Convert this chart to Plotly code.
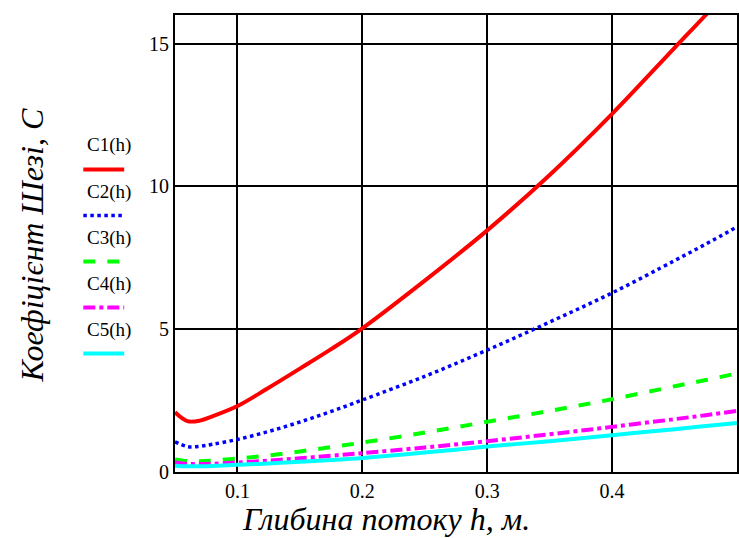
import plotly.graph_objects as go

h = [0.05, 0.06, 0.07, 0.08, 0.10, 0.125, 0.15, 0.175, 0.20, 0.25, 0.30, 0.35, 0.40, 0.45, 0.475, 0.50]
C1 = [2.09, 1.78, 1.80, 1.95, 2.31, 2.95, 3.62, 4.30, 5.03, 6.70, 8.46, 10.40, 12.54, 14.85, 16.0, 17.2]
C2 = [1.06, 0.89, 0.90, 0.97, 1.14, 1.42, 1.75, 2.12, 2.52, 3.35, 4.27, 5.25, 6.27, 7.40, 7.98, 8.58]
C3 = [0.44, 0.38, 0.38, 0.40, 0.47, 0.58, 0.72, 0.87, 1.03, 1.38, 1.76, 2.14, 2.55, 3.00, 3.22, 3.45]
C4 = [0.33, 0.28, 0.28, 0.29, 0.33, 0.40, 0.48, 0.57, 0.66, 0.86, 1.08, 1.32, 1.58, 1.85, 1.99, 2.14]
C5 = [0.22, 0.20, 0.20, 0.21, 0.25, 0.30, 0.36, 0.42, 0.49, 0.68, 0.89, 1.08, 1.29, 1.50, 1.61, 1.72]

names = ["C1(h)", "C2(h)", "C3(h)", "C4(h)", "C5(h)"]
series = [C1, C2, C3, C4, C5]
colors = ["#ff0000", "#0000ff", "#00ff00", "#ff00ff", "#00ffff"]
dashes = ["solid", "dot", "dash", "dashdot", "solid"]
widths = [4, 3.5, 4, 4, 4]

x_ticks = [0.1, 0.2, 0.3, 0.4]
y_ticks = [0, 5, 10, 15]

fig = go.Figure()
for name, ys, c, d, w in zip(names, series, colors, dashes, widths):
    fig.add_trace(go.Scatter(x=h, y=ys, mode="lines", name=name,
                             line=dict(color=c, dash=d, width=w, shape="spline"),
                             showlegend=False))

serif = "Times New Roman"

shapes = []
annotations = []
L, R, T, B = 175, 739, 15, 472
W, H = R - L, B - T
def px(xp):
    return (xp - L) / W
def py(yp):
    return (B - yp) / H

text_y = [145, 191.5, 237.5, 283.5, 329.5]
line_y = [169.5, 215.5, 261.5, 307.5, 353.5]
for i, name in enumerate(names):
    annotations.append(dict(text=name, x=px(108.5), y=py(text_y[i]), xref="paper", yref="paper",
                            showarrow=False, font=dict(family=serif, size=19, color="black"),
                            xanchor="center", yanchor="middle"))
    shapes.append(dict(type="line", xref="paper", yref="paper",
                       x0=px(83), x1=px(124), y0=py(line_y[i]), y1=py(line_y[i]),
                       line=dict(color=colors[i], dash=dashes[i], width=widths[i])))

annotations.append(dict(text="Глибина потоку h, м.", x=px(387), y=py(519), xref="paper", yref="paper",
                        showarrow=False, font=dict(family=serif, size=32, color="black", style="italic"),
                        xanchor="center", yanchor="middle"))
annotations.append(dict(text="Коефіцієнт Шезі, C", x=px(31), y=py(246), xref="paper", yref="paper",
                        showarrow=False, textangle=-90,
                        font=dict(family=serif, size=32, color="black", style="italic"),
                        xanchor="center", yanchor="middle"))

fig.update_layout(
    width=739, height=538,
    margin=dict(l=L, r=0, t=T, b=538 - B),
    paper_bgcolor="white", plot_bgcolor="white",
    shapes=shapes, annotations=annotations,
    font=dict(family=serif, size=19, color="black"),
)
fig.update_xaxes(range=[0.05, 0.5], tickvals=x_ticks, ticktext=[str(v) for v in x_ticks],
                 showgrid=True, gridcolor="black", gridwidth=1.5,
                 showline=True, linecolor="black", linewidth=2, mirror=True,
                 ticks="", zeroline=False, tickfont=dict(family=serif, size=20))
fig.update_yaxes(range=[0, 16], tickvals=y_ticks, ticktext=[str(v) for v in y_ticks],
                 showgrid=True, gridcolor="black", gridwidth=1.5,
                 showline=True, linecolor="black", linewidth=2, mirror=True,
                 ticks="", zeroline=False, tickfont=dict(family=serif, size=20))

fig.write_html("out.html")
